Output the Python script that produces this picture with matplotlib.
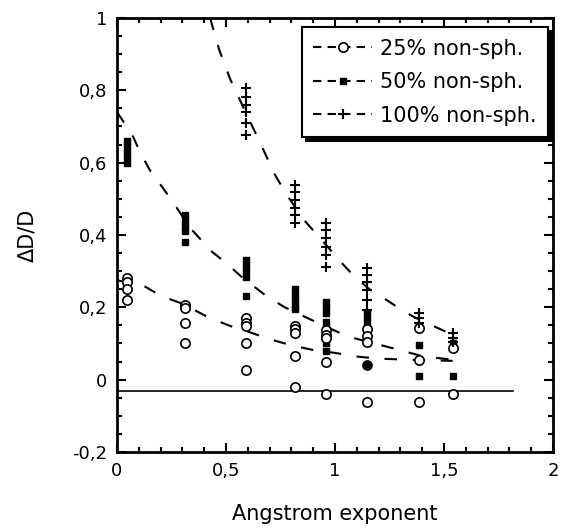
import matplotlib.pyplot as plt
from matplotlib.lines import Line2D
from matplotlib.ticker import MultipleLocator
import numpy as np

plt.rcParams['font.family'] = ['DejaVu Sans']

# 25% non-spherical (open circles)
x25 = [0.046, 0.046, 0.046, 0.046,
       0.31, 0.31, 0.31, 0.31,
       0.59, 0.59, 0.59, 0.59, 0.59,
       0.817, 0.817, 0.817, 0.817, 0.817,
       0.96, 0.96, 0.96, 0.96, 0.96,
       1.147, 1.147, 1.147, 1.147,
       1.385, 1.385, 1.385,
       1.54, 1.54]
y25 = [0.28, 0.27, 0.25, 0.22,
       0.207, 0.199, 0.157, 0.102,
       0.171, 0.157, 0.149, 0.102, 0.028,
       0.149, 0.141, 0.13, 0.066, -0.019,
       0.138, 0.124, 0.116, 0.05, -0.041,
       0.14, 0.12, 0.105, -0.061,
       0.144, 0.055, -0.061,
       0.088, -0.041]
# one filled circle
x25_fill = [1.147]
y25_fill = [0.041]

# 50% non-spherical (filled squares)
x50 = [0.046] * 5 + [0.31] * 5 + [0.59] * 5 + [0.817] * 5 + [0.96] * 7 \
    + [1.147] * 5 + [1.385] * 3 + [1.54] * 2
y50 = [0.60, 0.615, 0.63, 0.645, 0.66,
       0.455, 0.44, 0.425, 0.41, 0.38,
       0.33, 0.315, 0.30, 0.285, 0.23,
       0.25, 0.235, 0.22, 0.205, 0.195,
       0.215, 0.2, 0.185, 0.16, 0.14, 0.10, 0.08,
       0.185, 0.17, 0.155, 0.14, 0.125,
       0.145, 0.097, 0.011,
       0.10, 0.011]

# 100% non-spherical (plus)
x100 = [0.59] * 6 + [0.817] * 6 + [0.96] * 6 + [1.147] * 6 + [1.385] * 3 + [1.54] * 3
y100 = [0.807, 0.782, 0.76, 0.74, 0.71, 0.677,
        0.539, 0.519, 0.497, 0.475, 0.456, 0.434,
        0.434, 0.414, 0.392, 0.367, 0.345, 0.312,
        0.309, 0.29, 0.27, 0.249, 0.221, 0.193,
        0.185, 0.171, 0.157,
        0.13, 0.116, 0.105]

# dashed fit curves
cx25 = [0, 0.13, 0.2, 0.3, 0.42, 0.53, 0.6, 0.7, 0.8, 0.9, 1.0, 1.1, 1.2, 1.35, 1.54]
cy25 = [0.275, 0.257, 0.232, 0.21, 0.172, 0.146, 0.133, 0.112, 0.095, 0.082, 0.074,
        0.064, 0.058, 0.055, 0.052]
cx50 = [0, 0.07, 0.105, 0.15, 0.19, 0.25, 0.28, 0.335, 0.38, 0.435, 0.5, 0.57, 0.63,
        0.69, 0.77, 0.84, 0.9, 0.96, 1.02, 1.08, 1.15, 1.22, 1.29, 1.4, 1.54]
cy50 = [0.74, 0.677, 0.63, 0.58, 0.547, 0.497, 0.47, 0.42, 0.39, 0.354, 0.323, 0.285,
        0.257, 0.229, 0.2, 0.18, 0.163, 0.146, 0.13, 0.116, 0.105, 0.094, 0.083,
        0.065, 0.055]
cx100 = [0.427, 0.47, 0.52, 0.6, 0.665, 0.725, 0.78, 0.86, 0.91, 0.97, 1.03, 1.09,
         1.16, 1.22, 1.29, 1.36, 1.42, 1.54]
cy100 = [1.0, 0.91, 0.83, 0.727, 0.644, 0.566, 0.51, 0.44, 0.406, 0.365, 0.323,
         0.285, 0.249, 0.227, 0.199, 0.174, 0.157, 0.124]

# horizontal reference line
ref_y = -0.03
ref_x = [0, 1.817]

xticks = [0, 0.5, 1, 1.5, 2]
xticklabels = ['0', '0,5', '1', '1,5', '2']
yticks = [-0.2, 0, 0.2, 0.4, 0.6, 0.8, 1]
yticklabels = ['-0,2', '0', '0,2', '0,4', '0,6', '0,8', '1']
labels = ['25% non-sph.', '50% non-sph.', '100% non-sph.']

fig = plt.figure(figsize=(5.61, 5.28), dpi=100)
ax = fig.add_axes([117/561, 76/528, 436/561, 434/528])

dash = (0, (6, 7.5))
ax.plot(cx25, cy25, c='black', lw=1.5, ls=dash, zorder=2)
ax.plot(cx50, cy50, c='black', lw=1.5, ls=dash, zorder=2)
ax.plot(cx100, cy100, c='black', lw=1.5, ls=dash, zorder=2)
ax.plot(ref_x, [ref_y, ref_y], c='black', lw=1.2, zorder=2)

ax.plot(x50, y50, ls='none', marker='s', ms=5, mfc='black', mec='black', zorder=3)
ax.plot(x25, y25, ls='none', marker='o', ms=6.7, mfc='white', mec='black', mew=1.2, zorder=4)
ax.plot(x25_fill, y25_fill, ls='none', marker='o', ms=6.7, mfc='black', mec='black', zorder=4)
ax.plot(x100, y100, ls='none', marker='+', ms=7, mec='black', mew=1.5, zorder=5)

ax.set_xlim(0, 2)
ax.set_ylim(-0.2, 1)
ax.set_xticks(xticks)
ax.set_xticklabels(xticklabels)
ax.set_yticks(yticks)
ax.set_yticklabels(yticklabels)
ax.xaxis.set_minor_locator(MultipleLocator(0.1))
ax.yaxis.set_minor_locator(MultipleLocator(0.05))
ax.tick_params(which='both', direction='in', top=True, right=True, width=1.5,
               labelsize=13, colors='black')
ax.tick_params(which='major', length=6.5, pad=7)
ax.tick_params(which='minor', length=3.5)
for s in ax.spines.values():
    s.set_linewidth(2)

ax.set_xlabel('Angstrom exponent', fontsize=15)
ax.set_ylabel('ΔD/D', fontsize=15)
ax.xaxis.set_label_coords(0.5, -0.12)
ax.yaxis.set_label_coords(-0.183, 0.5)

handles = [
    Line2D([], [], c='black', lw=1.5, ls=(0, (4, 3)), marker='o', ms=6.7, mfc='white', mew=1.2),
    Line2D([], [], c='black', lw=1.5, ls=(0, (4, 3)), marker='s', ms=5),
    Line2D([], [], c='black', lw=1.5, ls=(0, (4, 3)), marker='+', ms=7, mew=1.5),
]
leg = ax.legend(handles, labels, loc='upper right', bbox_to_anchor=(0.9885, 0.979),
                borderaxespad=0, fontsize=15, frameon=True, fancybox=False,
                handlelength=2.8, handletextpad=0.4, labelspacing=0.65, borderpad=0.55,
                shadow={'ox': 3, 'oy': -3, 'facecolor': 'black', 'edgecolor': 'black', 'alpha': 1})
leg.get_frame().set_edgecolor('black')
leg.get_frame().set_linewidth(1.5)
leg.get_frame().set_alpha(1)
leg.set_zorder(10)

fig.savefig('out.png', dpi=100)
